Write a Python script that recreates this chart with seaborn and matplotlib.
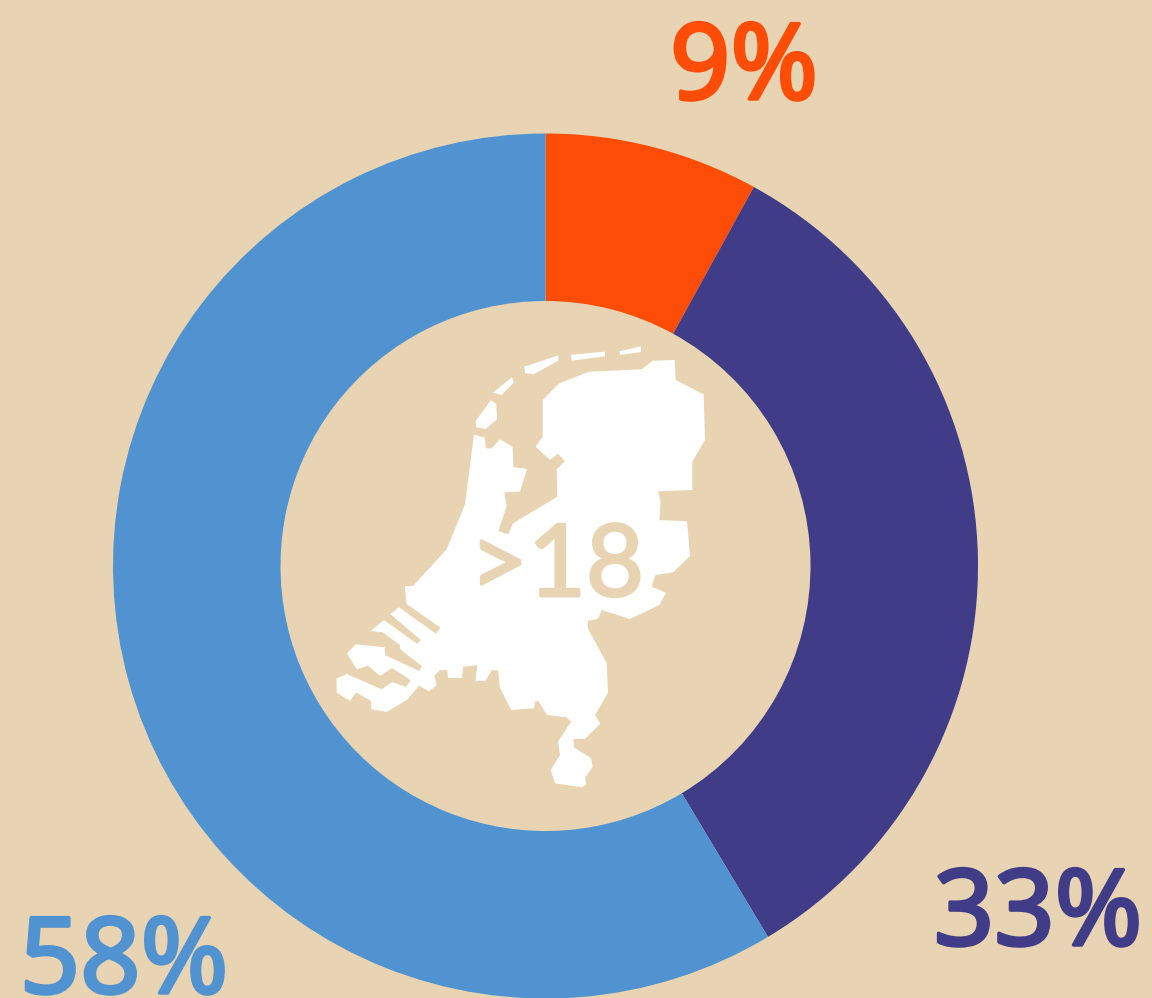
import matplotlib
matplotlib.use("Agg")
import matplotlib.pyplot as plt
from matplotlib.patches import Polygon
import matplotlib.patheffects as pe
import seaborn as sns

# slice sizes as measured, labels as printed
groups = ["under 18", "18 plus a", "18 plus b"]
shares = [8.0, 33.4, 58.6]
share_labels = ["9%", "33%", "58%"]
colors = ["#FF4C06", "#403C87", "#5193D1"]
background = "#E8D4B2"
center_text = ">18"

# outline of the country, traced in image pixels
mainland = [
    (641.7, 369.3), (652.7, 360.7), (674.7, 360), (675.7, 380), (703.7, 394.3), (705, 440),
    (692.3, 461.7), (692.3, 490), (658, 491.3), (660.7, 502), (659.3, 520), (687, 521.3),
    (690, 556), (673.3, 572.3), (655.3, 575), (651.7, 586.7), (666, 592.7), (659.3, 605),
    (630, 619), (601.7, 610), (598, 619), (588, 620.7), (588, 629), (606.7, 663),
    (608, 692.7), (595, 715.3), (600.3, 723.7), (585, 738.7), (573.3, 739), (574, 747.7),
    (590.7, 757.7), (592.7, 766.7), (585, 777.7), (586.3, 784.3), (581.7, 787.3), (555, 783.3),
    (550.7, 770), (560, 755), (558, 741.7), (571, 721.7), (566.7, 717.3), (547, 715),
    (538.3, 701), (535.3, 701.3), (534, 708.3), (511.3, 710), (499.7, 687.3), (498.3, 670.7),
    (491.7, 670), (485.7, 680.7), (475.3, 680.7), (477.3, 665.3), (463.3, 666.7), (462, 678),
    (448, 678), (447.3, 670), (440, 670.3), (434.3, 675.3), (436.7, 685.3), (428.7, 691.3),
    (419, 685.7), (407.3, 699.7), (386.7, 712), (371.3, 709.3), (371, 701), (356, 692.3),
    (350, 701), (336.7, 692.7), (336.3, 678.7), (346.7, 674), (381.7, 689.3), (392, 682),
    (406, 687), (410.7, 680.3), (392, 668), (380, 676), (368, 665.7), (356.7, 669.3),
    (347, 653.3), (355.7, 644.3), (384.7, 647.3), (385, 655), (419, 671), (422, 666.3),
    (400.3, 649.3), (400, 645), (382.7, 632.3), (370.7, 631), (384, 620), (417.3, 644),
    (420.7, 640), (390.3, 614), (399, 607.3), (436, 633.7), (440.3, 627.7), (406.3, 603.7),
    (405, 586), (413, 586), (446.7, 549.3), (465, 504.3), (474, 434.7), (485, 437.7),
    (485.7, 448.3), (491.7, 448.3), (500, 439.3), (512.7, 446.7), (513.3, 467), (527, 469),
    (520, 491.7), (504.3, 492.3), (506.7, 506), (498.3, 531), (508.3, 534.3), (513, 523.3),
    (557.3, 496.7), (556.7, 469.3), (565, 461), (557.7, 453.7), (550, 460), (535.7, 446.7),
    (542.7, 436.7), (542.7, 400), (559.3, 383.3), (589, 371.7),
]
texel = [(490.7, 400.3), (496.3, 403.7), (497, 419.3), (485.7, 429), (476, 427.3), (475.7, 421)]
vlieland = [(493, 392.7), (511.7, 377.3), (514, 382.3), (501.7, 395)]
terschelling = [(524.3, 366.7), (558.3, 355.3), (558.3, 360.7), (534, 374), (525, 373.3)]
ameland = [(571, 354.7), (605, 351.7), (605, 356.3), (571.7, 360.7)]
schiermonnikoog = [(619.3, 351.3), (641, 346.3), (641, 352), (620.3, 355)]

sns.set_theme(style="white", rc={"figure.facecolor": background, "axes.facecolor": background})
plt.rcParams["font.family"] = ["Noto Sans", "DejaVu Sans"]

fig = plt.figure(figsize=(11.52, 9.98), dpi=100)
ax = fig.add_axes([0, 0, 1, 1])

# y axis runs downward (image pixels), so the pie start angle is mirrored
ax.pie(
    shares,
    colors=colors,
    center=(545.5, 566),
    radius=432.5,
    startangle=-90,
    counterclock=True,
    wedgeprops={"width": 167.5, "linewidth": 0},
)
ax.set_xlim(0, 1152)
ax.set_ylim(998, 0)
ax.set_aspect("auto")
ax.axis("off")

for shape in [mainland, texel, vlieland, terschelling, ameland, schiermonnikoog]:
    ax.add_patch(Polygon(shape, closed=True, facecolor="white", edgecolor="none", zorder=3))

# Lato has the footed 1 of the reference
ax.text(
    557, 596, center_text, color=background, fontsize=72, family=["Lato", "DejaVu Sans"],
    ha="center", va="baseline", zorder=4,
    path_effects=[pe.withStroke(linewidth=2, foreground=background)],
)

# labels go where the reference puts them
label_pos = [(744, 99), (1038, 945), (124, 993)]
for label, col, (x, y) in zip(share_labels, colors, label_pos):
    ax.text(
        x, y, label, color=col, fontsize=76, ha="center", va="baseline", zorder=4,
        path_effects=[pe.withStroke(linewidth=2.5, foreground=col)],
    )

fig.savefig("out.png", dpi=100, facecolor=background)
